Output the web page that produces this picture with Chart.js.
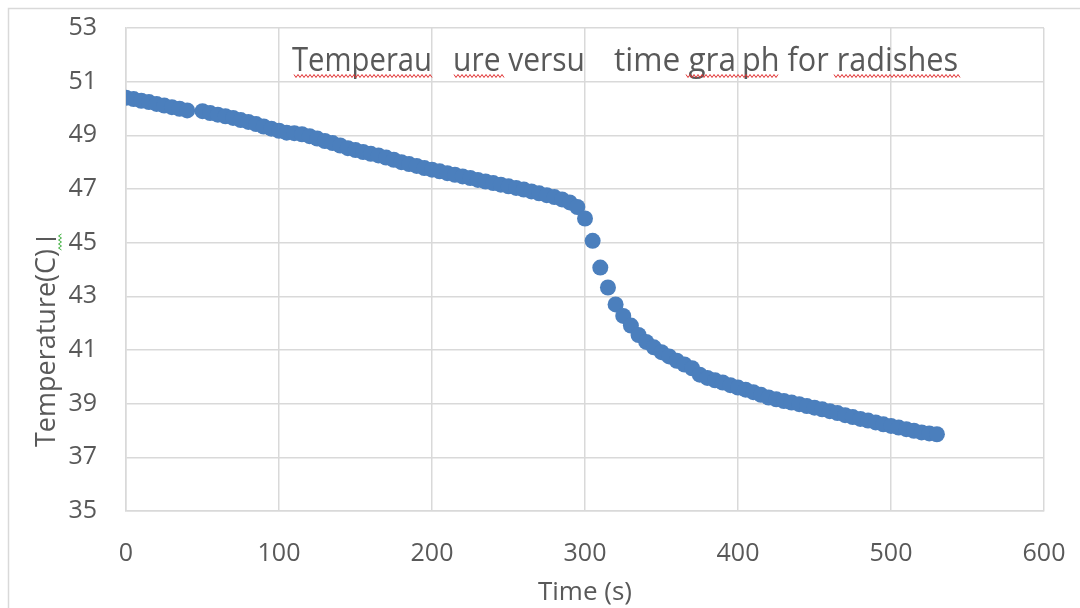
<!DOCTYPE html>
<html>
<head>
<meta charset="utf-8">
<script src="https://cdn.jsdelivr.net/npm/chart.js@4.4.1/dist/chart.umd.min.js"></script>
<style>
  html, body { margin: 0; padding: 0; background: #fff; }
  #wrap { width: 1080px; height: 608px; position: relative; }
</style>
</head>
<body>
<div id="wrap"><canvas id="c" width="1080" height="608"></canvas></div>
<script>
// time (s) readings — no reading at 45 s
const times = [
  0, 5, 10, 15, 20, 25, 30, 35, 40,
  50, 55, 60, 65, 70, 75, 80, 85, 90, 95,
  100, 105, 110, 115, 120, 125, 130, 135, 140, 145,
  150, 155, 160, 165, 170, 175, 180, 185, 190, 195,
  200, 205, 210, 215, 220, 225, 230, 235, 240, 245,
  250, 255, 260, 265, 270, 275, 280, 285, 290, 295,
  300, 305, 310, 315, 320, 325, 330, 335, 340, 345,
  350, 355, 360, 365, 370, 375, 380, 385, 390, 395,
  400, 405, 410, 415, 420, 425, 430, 435, 440, 445,
  450, 455, 460, 465, 470, 475, 480, 485, 490, 495,
  500, 505, 510, 515, 520, 525, 530
];

// temperature (C) readings
const temps = [
  50.40, 50.35, 50.29, 50.24, 50.17, 50.11, 50.05, 49.99, 49.93,
  49.90, 49.83, 49.77, 49.71, 49.65, 49.57, 49.50, 49.42, 49.33, 49.25,
  49.17, 49.10, 49.08, 49.04, 48.97, 48.88, 48.79, 48.71, 48.62, 48.52,
  48.45, 48.38, 48.31, 48.25, 48.17, 48.09, 48.00, 47.93, 47.86, 47.78,
  47.72, 47.66, 47.59, 47.53, 47.47, 47.41, 47.34, 47.28, 47.22, 47.16,
  47.10, 47.04, 46.98, 46.91, 46.84, 46.77, 46.70, 46.61, 46.50, 46.33,
  45.90, 45.07, 44.07, 43.33, 42.70, 42.27, 41.91, 41.56, 41.30, 41.10,
  40.92, 40.76, 40.60, 40.46, 40.32, 40.08, 39.96, 39.87, 39.79, 39.69,
  39.60, 39.52, 39.43, 39.33, 39.23, 39.16, 39.10, 39.04, 38.98, 38.91,
  38.85, 38.79, 38.72, 38.65, 38.57, 38.50, 38.43, 38.37, 38.30, 38.23,
  38.17, 38.11, 38.05, 37.99, 37.93, 37.89, 37.86
];

const xTicks = [0, 100, 200, 300, 400, 500, 600];
const yTicks = [35, 37, 39, 41, 43, 45, 47, 49, 51, 53];

// title pieces as they appear in the picture (with gaps)
const titleParts = ['Temperau', 'ure versu', 'time gra', 'ph for radishes'];
const yTitle = 'Temperature(C)';
const xTitle = 'Time (s)';

const FONT = "'Open Sans', 'Liberation Sans', sans-serif";
const GREY = '#595959';
const GRID = '#d9d9d9';

function squiggle(ctx, x0, x1, y, color, amp) {
  ctx.save();
  ctx.strokeStyle = color;
  ctx.lineWidth = 1;
  ctx.beginPath();
  let up = true;
  for (let x = x0; x <= x1; x += 2) {
    const yy = y + (up ? -amp : amp);
    if (x === x0) ctx.moveTo(x, yy); else ctx.lineTo(x, yy);
    up = !up;
  }
  ctx.stroke();
  ctx.restore();
}

const decor = {
  id: 'decor',
  beforeDraw(chart) {
    const ctx = chart.ctx;
    ctx.save();
    ctx.strokeStyle = GRID;
    ctx.lineWidth = 1.5;
    ctx.beginPath();
    ctx.moveTo(8.5, 608);
    ctx.lineTo(8.5, 8.5);
    ctx.lineTo(1080, 8.5);
    ctx.stroke();
    ctx.restore();
  },
  afterDraw(chart) {
    const ctx = chart.ctx;
    ctx.save();
    // chart title inside plot area
    ctx.fillStyle = GREY;
    ctx.textBaseline = 'alphabetic';
    ctx.font = '32px ' + FONT;
    const spots = [[292, 140], [453, 132], [614, 122], [742, 216]];
    titleParts.forEach((t, i) => {
      ctx.fillText(t, spots[i][0], 71, spots[i][1]);
    });
    squiggle(ctx, 294, 432, 76, '#e03030', 1.5);
    squiggle(ctx, 454, 504, 76, '#e03030', 1.5);
    squiggle(ctx, 686, 778, 76, '#e03030', 1.5);
    squiggle(ctx, 834, 960, 76, '#e03030', 1.5);

    // y axis title
    ctx.save();
    ctx.translate(55, 447);
    ctx.rotate(-Math.PI / 2);
    ctx.font = '27px ' + FONT;
    ctx.textBaseline = 'alphabetic';
    ctx.fillText(yTitle, 0, 0, 200);
    ctx.restore();
    ctx.fillRect(36, 238, 20, 2);
    ctx.save();
    ctx.translate(60, 0);
    ctx.rotate(Math.PI / 2);
    squiggle(ctx, 234, 250, 0, '#3fae3f', 1.5);
    ctx.restore();
    ctx.restore();
  }
};

new Chart(document.getElementById('c'), {
  type: 'scatter',
  data: {
    datasets: [{
      data: times.map((t, i) => ({ x: t, y: temps[i] })),
      backgroundColor: '#4b7fbd',
      borderWidth: 0,
      pointRadius: 8,
      pointHoverRadius: 8
    }]
  },
  options: {
    responsive: false,
    animation: false,
    layout: { padding: { top: 28, right: 36, left: 0, bottom: 0 } },
    plugins: { legend: { display: false }, tooltip: { enabled: false } },
    scales: {
      x: {
        type: 'linear',
        min: 0, max: 600,
        afterBuildTicks: s => { s.ticks = xTicks.map(v => ({ value: v })); },
        afterFit: s => { s.height = 97; s.paddingLeft = 0; s.paddingRight = 0; },
        grid: { color: GRID, lineWidth: 1.5, drawTicks: false },
        border: { color: GRID, width: 1.5 },
        ticks: { color: GREY, font: { family: FONT, size: 25 }, padding: 28, maxRotation: 0 },
        title: { display: true, text: xTitle, color: GREY, font: { family: FONT, size: 26 }, padding: { top: 0, bottom: 0 } }
      },
      y: {
        min: 35, max: 53,
        afterBuildTicks: s => { s.ticks = yTicks.map(v => ({ value: v })); },
        afterFit: s => { s.width = 126; s.paddingTop = 0; s.paddingBottom = 0; },
        grid: { color: GRID, lineWidth: 1.5, drawTicks: false },
        border: { color: GRID, width: 1.5 },
        ticks: { color: GREY, font: { family: FONT, size: 25 }, padding: 29 }
      }
    }
  },
  plugins: [decor]
});
</script>
</body>
</html>
